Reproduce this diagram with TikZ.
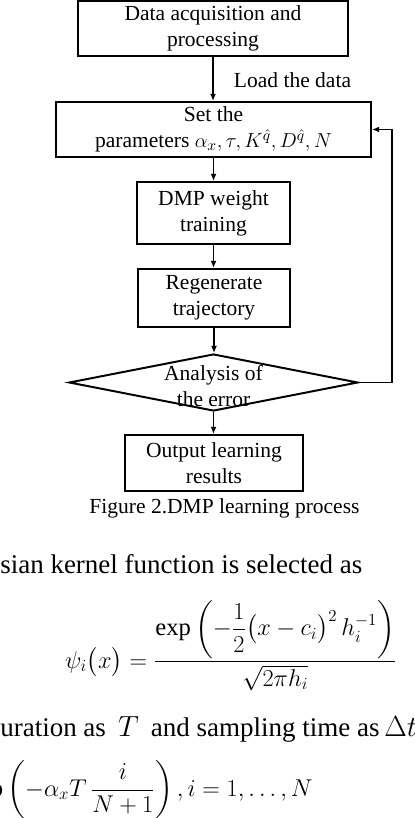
\documentclass[tikz,border=0pt]{standalone}
\usepackage{amsmath}
\usepackage{fontspec}
\setmainfont{Liberation Serif}
\usepackage{tikz}
\usetikzlibrary{shapes,shapes.geometric,arrows,positioning,calc,arrows.meta}
\tikzset{
    block/.style={draw, line width=1.4pt, inner sep=0pt, align=center, font=\fontsize{15.3}{18.5}\selectfont},
    check/.style={draw, diamond, line width=1.4pt, inner sep=0pt},
    flow/.style={line width=1.4pt, -{Latex[length=1.8mm,width=1.5mm]}},
    body/.style={inner sep=0pt, font=\fontsize{19.2}{22}\selectfont},
    formula/.style={inner sep=0pt, font=\fontsize{17.5}{21}\selectfont}
}

\begin{document}
\begin{tikzpicture}
    \useasboundingbox (0,0) rectangle (10.35,-20.45);

    % Boxes
    \node[block, minimum width=6.75cm, minimum height=1.375cm] (acq) at (5.325,-0.7125) {Data acquisition and\\processing};
    \node[block, minimum width=7.875cm, minimum height=1.375cm] (set) at (5.3375,-3.2375) {Set the\\parameters $\alpha_x,\tau,K^{\hat{q}},D^{\hat{q}},N$};
    \node[block, minimum width=3.825cm, minimum height=1.55cm] (train) at (5.3375,-5.325) {DMP weight\\training};
    \node[block, minimum width=3.8cm, minimum height=1.45cm] (regen) at (5.35,-7.45) {Regenerate\\trajectory};
    \node[check, minimum width=7.225cm, minimum height=1.425cm] (check) at (5.3375,-9.5625) {};
    \node[block, draw=none] (checktext) at (5.3375,-9.64) {Analysis of\\the error};
    \node[block, minimum width=4.45cm, minimum height=1.4cm] (out) at (5.35,-11.575) {Output learning\\results};
    \node[block, draw=none, anchor=west] (load) at (5.825,-2.0) {Load the data};

    % Arrows
    \draw[flow] (acq.south) -- (acq.south |- set.north);
    \draw[flow] (set.south) -- (set.south |- train.north);
    \draw[flow] (train.south) -- (train.south |- regen.north);
    \draw[flow] (regen.south) -- (regen.south |- check.north);
    \draw[flow] (check.south) -- (check.south |- out.north);
    \coordinate (back) at (9.8,-9.5625); % feedback corner
    \draw[flow] (check.east) -- (back) |- (set.east);

    % Caption and text
    \node[block, draw=none] (cap) at (5.6125,-12.7) {Figure 2.DMP learning process};
    \node[body, anchor=base west] (kern) at (0,-14.325) {sian kernel function is selected as};
    \node[formula, anchor=base east] (psi) at (9.925,-16.7) {$\displaystyle \psi_i\bigl(x\bigr)=\frac{\exp\left(-\dfrac{1}{2}\bigl(x-c_i\bigr)^2\,h_i^{-1}\right)}{\sqrt{2\pi h_i}}$};
    \node[body, anchor=base west] (dur) at (0,-18.4) {uration as\hspace{0.45em}$T$\hspace{0.45em}and sampling time as$\,\Delta t$};
    \node[formula, anchor=west] (cent) at (0.075,-19.75) {$\displaystyle \llap{$\exp$}\left(-\alpha_x T\,\frac{i}{N+1}\right),i=1,\ldots,N$};
\end{tikzpicture}
\end{document}
